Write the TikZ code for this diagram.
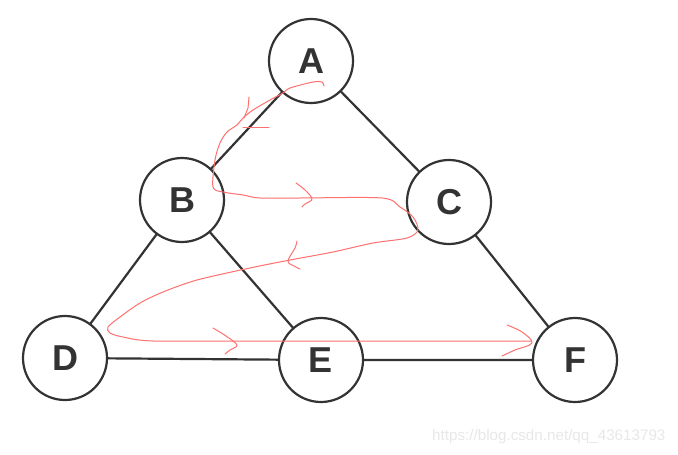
\documentclass[tikz,border=0pt]{standalone}
\usepackage{fontspec}
\setmainfont{Liberation Sans}
\begin{document}
\begin{tikzpicture}[x=1pt,y=-1pt,
  vert/.style={circle,draw=edgec,line width=2.2pt,minimum size=84pt,inner sep=0pt,fill=white,
    font=\fontsize{36}{36}\selectfont\bfseries,text=edgec},
  edge/.style={draw=edgec,line width=2.2pt},
  pen/.style={draw=penred,line width=1pt,line cap=round,line join=round}]
\definecolor{edgec}{HTML}{333333}
\definecolor{penred}{HTML}{FF7070}
\definecolor{wm}{HTML}{E8E8E8}
\useasboundingbox[fill=white] (0,0) rectangle (678,455);
\coordinate (pA) at (311,61);
\coordinate (pB) at (182,200);
\coordinate (pC) at (449,202);
\coordinate (pD) at (65,358);
\coordinate (pE) at (321,360);
\coordinate (pF) at (575,360);
\draw[edge] (pA)--(pB) (pA)--(pC) (pB)--(pD) (pB)--(pE) (pC)--(pF) (pD)--(pE) (pE)--(pF);
\node[vert] (A) at (pA) {A};
\node[vert] (B) at (pB) {B};
\node[vert] (C) at (pC) {C};
\node[vert] (D) at (pD) {D};
\node[vert] (E) at (pE) {E};
\node[vert] (F) at (pF) {F};
% red traversal path
\draw[pen] plot[smooth,tension=0.5] coordinates {(324,86) (322,82) (313,82) (290,88) (283,93) (270,100) (253,110) (243,118) (237,125) (227,132) (220,143) (215,160) (213,187) (223,192) (243,195) (260,198) (300,198) (382,198) (400,207) (413,217) (418,230) (407,238) (373,243) (333,252) (290,260) (250,268) (197,280) (163,292) (140,303) (120,317) (108,327) (110,333) (123,337) (153,341) (250,341) (400,341) (531,341)};
\draw[pen] (249,97) -- (248,108) -- (244,118);
\draw[pen] (243,127) -- (269,127);
\draw[pen] plot[smooth,tension=0.6] coordinates {(296,183) (305,190) (312,199) (305,204) (302,207)};
\draw[pen] plot[smooth,tension=0.6] coordinates {(297,241) (295,248) (288,261) (294,266) (300,269)};
\draw[pen] plot[smooth,tension=0.6] coordinates {(213,328) (226,336) (237,345) (230,350) (225,354)};
\draw[pen] plot[smooth,tension=0.6] coordinates {(507,325) (522,332) (532,343) (515,350) (502,356)};
\node[text=wm,font=\fontsize{15.2}{15.2}\selectfont,anchor=east] (wmk) at (669,437) {https://blog.csdn.net/qq\_43613793};
\end{tikzpicture}
\end{document}
